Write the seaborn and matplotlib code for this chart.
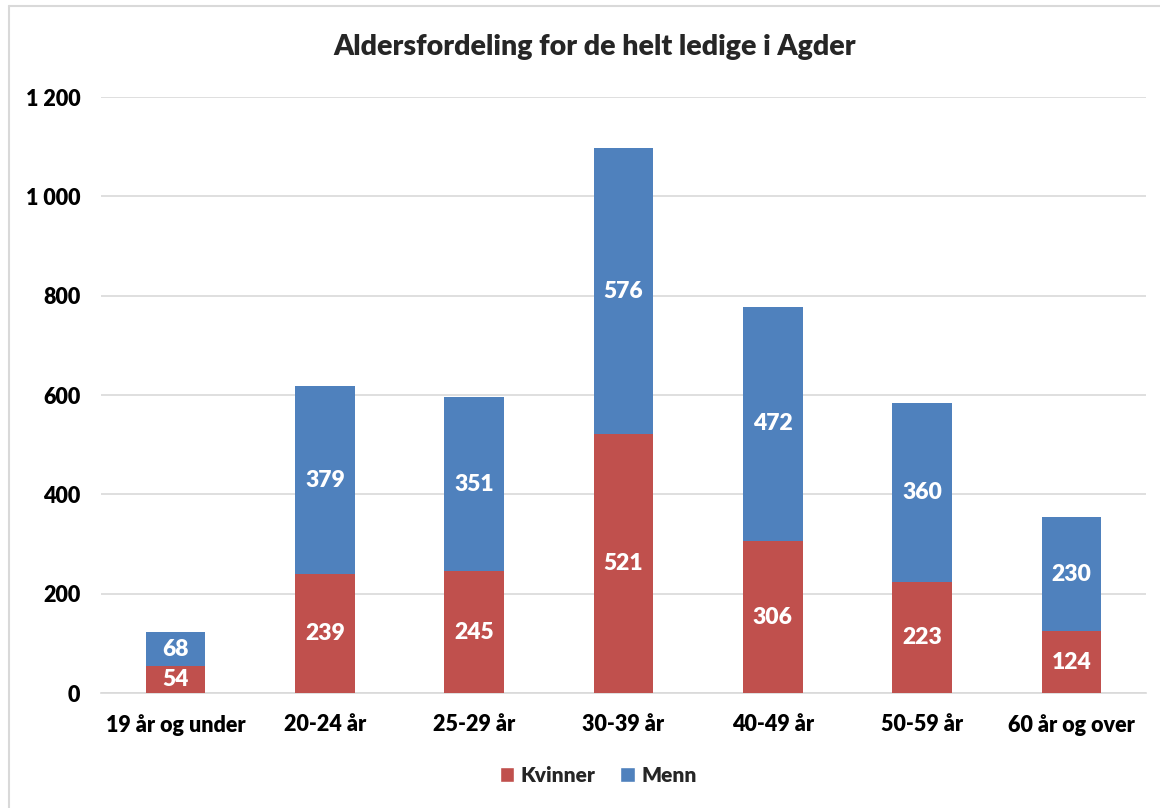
import matplotlib
matplotlib.use("Agg")
import matplotlib.pyplot as plt
import seaborn as sns
import pandas as pd
from matplotlib.lines import Line2D
from matplotlib.patches import Patch

categories = ["19 år og under", "20-24 år", "25-29 år", "30-39 år", "40-49 år", "50-59 år", "60 år og over"]
kvinner = [54, 239, 245, 521, 306, 223, 124]
menn = [68, 379, 351, 576, 472, 360, 230]
yticks = [0, 200, 400, 600, 800, 1000, 1200]
ytick_labels = ["0", "200", "400", "600", "800", "1 000", "1 200"]

RED = "#C0504D"
BLUE = "#4F81BD"
W = 800

sns.set_theme(style="white")
plt.rcParams["font.family"] = ["Lato", "DejaVu Sans"]

df = pd.DataFrame({"Kategori": categories, "Kvinner": kvinner, "Menn": menn})
df["Totalt"] = df["Kvinner"] + df["Menn"]

fig = plt.figure(figsize=(11.6, 8.08), dpi=100)
ax = fig.add_axes([101 / 1160, 1 - 693 / 808, 1045 / 1160, (693 - 97) / 808])

sns.barplot(data=df, x="Kategori", y="Totalt", color=BLUE, width=0.40, ax=ax,
            saturation=1, errorbar=None, zorder=3, linewidth=0)
sns.barplot(data=df, x="Kategori", y="Kvinner", color=RED, width=0.40, ax=ax,
            saturation=1, errorbar=None, zorder=3, linewidth=0)

for i, (k, m) in enumerate(zip(kvinner, menn)):
    ax.text(i, k / 2, f"{k}", ha="center", va="center", color="white",
            fontsize=16.5, fontweight=W, zorder=4)
    ax.text(i, k + m / 2, f"{m}", ha="center", va="center", color="white",
            fontsize=16.5, fontweight=W, zorder=4)

ax.set_xlim(-0.5, len(categories) - 0.5)
ax.set_ylim(0, 1200)
ax.set_yticks(yticks)
ax.set_yticklabels(ytick_labels)
ax.yaxis.grid(True, color="#D9D9D9", linewidth=1.2, zorder=0)
ax.set_axisbelow(True)
for s in ["top", "right", "left"]:
    ax.spines[s].set_visible(False)
ax.spines["bottom"].set_color("#D9D9D9")
ax.spines["bottom"].set_linewidth(1.2)
ax.tick_params(axis="both", length=0, labelsize=15.5, colors="black")
ax.tick_params(axis="y", pad=15)
ax.tick_params(axis="x", pad=15)
for lab in ax.get_xticklabels() + ax.get_yticklabels():
    lab.set_fontweight(W)
ax.set_xlabel("")
ax.set_ylabel("")

fig.text(595 / 1160, 1 - 47 / 808, "Aldersfordeling for de helt ledige i Agder",
         ha="center", va="center", fontsize=20.5, fontweight=W)

handles = [Patch(facecolor=RED, label="Kvinner"), Patch(facecolor=BLUE, label="Menn")]
fig.legend(handles=handles, loc="center", bbox_to_anchor=(598 / 1160, 1 - 775 / 808),
           ncol=2, frameon=False, prop={"size": 15, "weight": W},
           handlelength=0.7, handleheight=0.7, handletextpad=0.3, columnspacing=1.2)

# outer chart border (light gray)
fig.add_artist(Line2D([9 / 1160, 9 / 1160], [0, 1 - 6 / 808], transform=fig.transFigure,
                      color="#D9D9D9", linewidth=1.5))
fig.add_artist(Line2D([9 / 1160, 1], [1 - 6 / 808, 1 - 6 / 808], transform=fig.transFigure,
                      color="#D9D9D9", linewidth=1.5))

fig.savefig("out.png", dpi=100, facecolor="white")
